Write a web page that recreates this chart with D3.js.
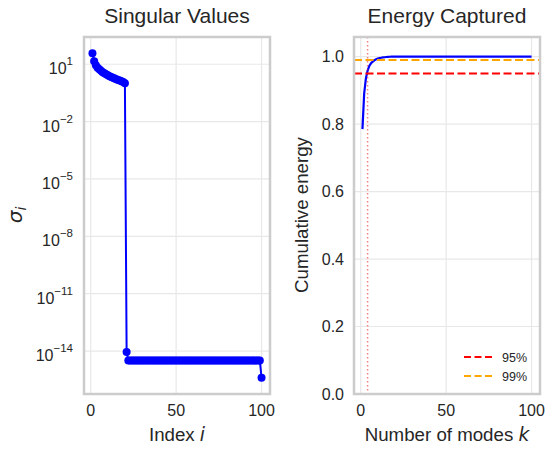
<!DOCTYPE html>
<html>
<head>
<meta charset="utf-8">
<script src="https://cdn.jsdelivr.net/npm/d3@7"></script>
<style>
  body { margin: 0; background: #fff; }
  svg text { font-family: "Liberation Sans", Arial, sans-serif; fill: #262626; }
</style>
</head>
<body>
<div id="chart"></div>
<script>
// singular values, index 1..100
var sigma = [
  37.7, 14.4, 8.9, 6.6, 5.5, 4.6, 3.8, 3.4, 3.0, 2.65,
  2.35, 2.14, 1.96, 1.81, 1.64, 1.52, 1.41, 1.29, 1.17, 1.01,
  9e-15, 3.2e-15, 3.2e-15, 3.2e-15, 3.2e-15, 3.2e-15, 3.2e-15, 3.2e-15, 3.2e-15, 3.2e-15,
  3.2e-15, 3.2e-15, 3.2e-15, 3.2e-15, 3.2e-15, 3.2e-15, 3.2e-15, 3.2e-15, 3.2e-15, 3.2e-15,
  3.2e-15, 3.2e-15, 3.2e-15, 3.2e-15, 3.2e-15, 3.2e-15, 3.2e-15, 3.2e-15, 3.2e-15, 3.2e-15,
  3.2e-15, 3.2e-15, 3.2e-15, 3.2e-15, 3.2e-15, 3.2e-15, 3.2e-15, 3.2e-15, 3.2e-15, 3.2e-15,
  3.2e-15, 3.2e-15, 3.2e-15, 3.2e-15, 3.2e-15, 3.2e-15, 3.2e-15, 3.2e-15, 3.2e-15, 3.2e-15,
  3.2e-15, 3.2e-15, 3.2e-15, 3.2e-15, 3.2e-15, 3.2e-15, 3.2e-15, 3.2e-15, 3.2e-15, 3.2e-15,
  3.2e-15, 3.2e-15, 3.2e-15, 3.2e-15, 3.2e-15, 3.2e-15, 3.2e-15, 3.2e-15, 3.2e-15, 3.2e-15,
  3.2e-15, 3.2e-15, 3.2e-15, 3.2e-15, 3.2e-15, 3.2e-15, 3.2e-15, 3.2e-15, 3.2e-15, 4e-16
];
// cumulative energy, k = 1..100
var energy = [
  0.785, 0.89, 0.935, 0.958, 0.972, 0.980, 0.985, 0.989, 0.992, 0.994,
  0.9955, 0.9965, 0.9975, 0.998, 0.9987, 0.9992, 0.9995, 0.9997, 0.9999, 1.0,
  1.0, 1.0, 1.0, 1.0, 1.0, 1.0, 1.0, 1.0, 1.0, 1.0,
  1.0, 1.0, 1.0, 1.0, 1.0, 1.0, 1.0, 1.0, 1.0, 1.0,
  1.0, 1.0, 1.0, 1.0, 1.0, 1.0, 1.0, 1.0, 1.0, 1.0,
  1.0, 1.0, 1.0, 1.0, 1.0, 1.0, 1.0, 1.0, 1.0, 1.0,
  1.0, 1.0, 1.0, 1.0, 1.0, 1.0, 1.0, 1.0, 1.0, 1.0,
  1.0, 1.0, 1.0, 1.0, 1.0, 1.0, 1.0, 1.0, 1.0, 1.0,
  1.0, 1.0, 1.0, 1.0, 1.0, 1.0, 1.0, 1.0, 1.0, 1.0,
  1.0, 1.0, 1.0, 1.0, 1.0, 1.0, 1.0, 1.0, 1.0, 1.0
];
var xTicks = [0, 50, 100];
var sigmaExps = [1, -2, -5, -8, -11, -14];
var energyTicks = [0.0, 0.2, 0.4, 0.6, 0.8, 1.0];
var thresholds = [{label: "95%", value: 0.95, color: "red"},
                  {label: "99%", value: 0.99, color: "orange"}];
var kCut = 4;   // modes needed for 95%

var W = 545, H = 450;
var plotTop = 37, plotBottom = 394;
var panelL = {x0: 84, x1: 270};
var panelR = {x0: 354, x1: 540};
var gridColor = "#e8e8e8", spineColor = "#cccccc";
var tickSize = "16px", labelSize = "18.7px", titleSize = "21px";

var svg = d3.select("#chart").append("svg")
  .attr("width", W).attr("height", H);

// x domain with matplotlib style 5% margins
var xPad = (100 - 1) * 0.05;
function makeX(p) {
  return d3.scaleLinear().domain([1 - xPad, 100 + xPad]).range([p.x0, p.x1]);
}

function drawFrame(g, p) {
  g.append("rect")
    .attr("x", p.x0).attr("y", plotTop)
    .attr("width", p.x1 - p.x0).attr("height", plotBottom - plotTop)
    .attr("fill", "none").attr("stroke", spineColor).attr("stroke-width", 2.5);
}

// ---------- left: singular values ----------
var gL = svg.append("g");
var xL = makeX(panelL);
var logs = sigma.map(function(d) { return Math.log10(d); });
var lmin = d3.min(logs), lmax = d3.max(logs), lpad = (lmax - lmin) * 0.05;
var yL = d3.scaleLog()
  .domain([Math.pow(10, lmin - lpad), Math.pow(10, lmax + lpad)])
  .range([plotBottom, plotTop]);

gL.selectAll(".gy").data(sigmaExps).enter().append("line")
  .attr("x1", panelL.x0).attr("x2", panelL.x1)
  .attr("y1", function(e) { return yL(Math.pow(10, e)); })
  .attr("y2", function(e) { return yL(Math.pow(10, e)); })
  .attr("stroke", gridColor).attr("stroke-width", 1.2);
gL.selectAll(".gx").data(xTicks).enter().append("line")
  .attr("x1", function(d) { return xL(d); }).attr("x2", function(d) { return xL(d); })
  .attr("y1", plotTop).attr("y2", plotBottom)
  .attr("stroke", gridColor).attr("stroke-width", 1.2);

gL.append("path").datum(sigma)
  .attr("fill", "none").attr("stroke", "blue").attr("stroke-width", 2)
  .attr("d", d3.line()
    .x(function(d, i) { return xL(i + 1); })
    .y(function(d) { return yL(d); }));
gL.selectAll(".pt").data(sigma).enter().append("circle")
  .attr("cx", function(d, i) { return xL(i + 1); })
  .attr("cy", function(d) { return yL(d); })
  .attr("r", 4).attr("fill", "blue");

drawFrame(gL, panelL);

// y tick labels 10^e
var yt = gL.selectAll(".yt").data(sigmaExps).enter().append("text")
  .attr("x", panelL.x0 - 11)
  .attr("y", function(e) { return yL(Math.pow(10, e)) + 10; })
  .attr("text-anchor", "end")
  .style("font-size", tickSize);
yt.append("tspan").text("10");
yt.append("tspan").attr("dy", -9).style("font-size", "11.5px")
  .text(function(e) { return e < 0 ? "\u2212" + (-e) : e; });

gL.selectAll(".xt").data(xTicks).enter().append("text")
  .attr("x", function(d) { return xL(d); }).attr("y", plotBottom + 22)
  .attr("text-anchor", "middle").style("font-size", tickSize)
  .text(function(d) { return d; });

gL.append("text").attr("x", (panelL.x0 + panelL.x1) / 2).attr("y", 23)
  .attr("text-anchor", "middle").style("font-size", titleSize).text("Singular Values");
var xl = gL.append("text").attr("x", (panelL.x0 + panelL.x1) / 2).attr("y", 441)
  .attr("text-anchor", "middle").style("font-size", labelSize);
xl.append("tspan").text("Index ");
xl.append("tspan").style("font-style", "italic").style("font-family", "DejaVu Sans").text("i");
var yl = gL.append("text").attr("transform", "translate(22,215) rotate(-90)")
  .attr("text-anchor", "middle").style("font-size", "20px");
yl.append("tspan").style("font-style", "italic").style("font-family", "DejaVu Sans").text("\u03c3");
yl.append("tspan").attr("dy", 4).style("font-size", "14px").style("font-style", "italic")
  .style("font-family", "DejaVu Sans").text("i");

// ---------- right: energy ----------
var gR = svg.append("g");
var xR = makeX(panelR);
var yR = d3.scaleLinear().domain([0, 1.058]).range([plotBottom, plotTop]);

gR.selectAll(".gy").data(energyTicks).enter().append("line")
  .attr("x1", panelR.x0).attr("x2", panelR.x1)
  .attr("y1", function(d) { return yR(d); }).attr("y2", function(d) { return yR(d); })
  .attr("stroke", gridColor).attr("stroke-width", 1.2);
gR.selectAll(".gx").data(xTicks).enter().append("line")
  .attr("x1", function(d) { return xR(d); }).attr("x2", function(d) { return xR(d); })
  .attr("y1", plotTop).attr("y2", plotBottom)
  .attr("stroke", gridColor).attr("stroke-width", 1.2);

gR.append("path").datum(energy)
  .attr("fill", "none").attr("stroke", "blue").attr("stroke-width", 2.2)
  .attr("d", d3.line()
    .x(function(d, i) { return xR(i + 1); })
    .y(function(d) { return yR(d); }));

gR.selectAll(".th").data(thresholds).enter().append("line")
  .attr("x1", panelR.x0).attr("x2", panelR.x1)
  .attr("y1", function(d) { return yR(d.value); }).attr("y2", function(d) { return yR(d.value); })
  .attr("stroke", function(d) { return d.color; })
  .attr("stroke-width", 2).attr("stroke-dasharray", "8,3.5");

gR.append("line")
  .attr("x1", xR(kCut)).attr("x2", xR(kCut))
  .attr("y1", plotTop).attr("y2", plotBottom)
  .attr("stroke", "red").attr("stroke-opacity", 0.5)
  .attr("stroke-width", 1.5).attr("stroke-dasharray", "1.5,2.5");

drawFrame(gR, panelR);

gR.selectAll(".yt").data(energyTicks).enter().append("text")
  .attr("x", panelR.x0 - 10).attr("y", function(d) { return yR(d) + 5.5; })
  .attr("text-anchor", "end").style("font-size", tickSize)
  .text(function(d) { return d.toFixed(1); });
gR.selectAll(".xt").data(xTicks).enter().append("text")
  .attr("x", function(d) { return xR(d); }).attr("y", plotBottom + 22)
  .attr("text-anchor", "middle").style("font-size", tickSize)
  .text(function(d) { return d; });

gR.append("text").attr("x", (panelR.x0 + panelR.x1) / 2).attr("y", 23)
  .attr("text-anchor", "middle").style("font-size", titleSize).text("Energy Captured");
var xl2 = gR.append("text").attr("x", (panelR.x0 + panelR.x1) / 2).attr("y", 441)
  .attr("text-anchor", "middle").style("font-size", labelSize);
xl2.append("tspan").text("Number of modes ");
xl2.append("tspan").style("font-style", "italic").style("font-family", "DejaVu Sans").text("k");
gR.append("text").attr("transform", "translate(308,215) rotate(-90)")
  .attr("text-anchor", "middle").style("font-size", labelSize).text("Cumulative energy");

// legend
var leg = gR.selectAll(".leg").data(thresholds).enter().append("g")
  .attr("transform", function(d, i) { return "translate(464," + (357 + i * 19) + ")"; });
leg.append("line").attr("x1", 0).attr("x2", 28)
  .attr("stroke", function(d) { return d.color; })
  .attr("stroke-width", 2).attr("stroke-dasharray", "7,3.5");
leg.append("text").attr("x", 38).attr("y", 4.5).style("font-size", "12.5px")
  .text(function(d) { return d.label; });
</script>
</body>
</html>
